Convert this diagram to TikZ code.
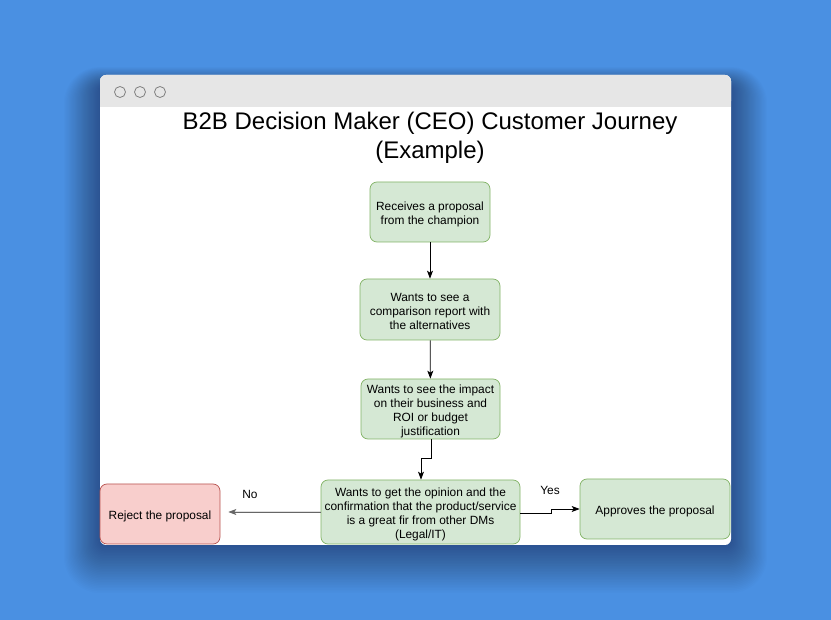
\documentclass[tikz,border=0pt]{standalone}
\usepackage{fontspec}
\setmainfont{Liberation Sans}
\usetikzlibrary{arrows.meta}
\definecolor{bgblue}{HTML}{4A90E2}
\definecolor{gfill}{HTML}{D5E8D4}
\definecolor{gdraw}{HTML}{82B366}
\definecolor{rfill}{HTML}{F8CECC}
\definecolor{rdraw}{HTML}{B85450}
\definecolor{barc}{HTML}{E6E6E6}
\tikzset{
  box/.style={draw=gdraw, fill=gfill, rounded corners=7pt, line width=0.7pt},
  rbox/.style={box, draw=rdraw, fill=rfill},
  btext/.style={align=center, font=\fontsize{11.9}{14}\selectfont, yshift=-2pt},
  conn/.style={-{Stealth[length=8pt,width=6pt,inset=2pt]}, line width=0.8pt, black},
  lbl/.style={font=\fontsize{11.9}{14}\selectfont}
}
\begin{document}
\begin{tikzpicture}[x=1pt,y=-1pt]
\fill[bgblue] (0,0) rectangle (831,620);
\useasboundingbox (0,0) rectangle (831,620);
% shadow
\foreach \i in {1,...,30}{
  \fill[black, opacity=0.012, rounded corners={6pt+\i pt}] (100-1.2*\i,75-0.6*\i+10) rectangle (731+1.2*\i,545+1.6*\i);
}
% window
\fill[white, rounded corners=6pt] (100,75) rectangle (731,545);
\fill[barc, rounded corners=6pt] (100,75) rectangle (731,107);
\fill[barc] (100,95) rectangle (731,107);
\foreach \cx in {120,140,160}{
  \draw[gray, line width=0.8pt] (\cx,92) circle (5.5);
}
\node[font=\fontsize{24}{29}\selectfont, align=center] (title) at (430,137.5) {B2B Decision Maker (CEO) Customer Journey\\(Example)};
% nodes
\node[box, minimum width=120pt, minimum height=60pt, label={[btext]center:Receives a proposal\\from the champion}] (n1) at (430,212) {};
\node[box, minimum width=140pt, minimum height=61pt, label={[btext]center:Wants to see a\\comparison report with\\the alternatives}] (n2) at (430,309.5) {};
\node[box, minimum width=139pt, minimum height=60pt, label={[btext]center:Wants to see the impact\\on their business and\\ROI or budget\\justification}] (n3) at (430.5,409) {};
\node[box, minimum width=199pt, minimum height=64pt, label={[btext]center:Wants to get the opinion and the\\confirmation that the product/service\\is a great fir from other DMs\\(Legal/IT)}] (n4) at (420.5,512) {};
\node[rbox, minimum width=120pt, minimum height=60pt, label={[btext]center:Reject the proposal}] (n5) at (160,514) {};
\node[box, minimum width=150pt, minimum height=60pt, label={[btext]center:Approves the proposal}] (n6) at (655,509) {};
% connectors
\draw[conn] (n1) -- (n2);
\draw[conn] (n2) -- (n3);
\coordinate (b1) at (431,458);
\coordinate (b2) at (421,458);
\draw[conn] (n3.south -| b1) -- (b1) -- (b2) -- (n4.north -| b2);
\coordinate (na) at (231,512);
\draw[conn, draw=black!60, fill=black] (n4.west |- na) -- ([xshift=8pt]n5.east |- na);
\coordinate (y1) at (551,513);
\coordinate (y2) at (551,509);
\draw[conn] (n4.east |- y1) -- (y1) -- (y2) -- (n6.west |- y2);
\node[lbl] (no) at (250,494) {No};
\node[lbl] (yes) at (550,490) {Yes};
\end{tikzpicture}
\end{document}
